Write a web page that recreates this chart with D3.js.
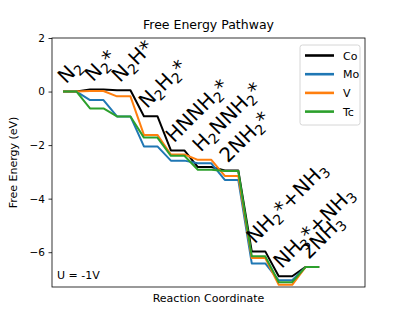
<!DOCTYPE html>
<html>
<head>
<meta charset="utf-8">
<script src="https://cdn.jsdelivr.net/npm/d3@7"></script>
<style>
  body { margin: 0; background: #fff; }
  text { font-family: "DejaVu Sans", sans-serif; }
</style>
</head>
<body>
<div id="chart"></div>
<script>
// reaction steps, "_" marks a subscript digit
var steps = ["N_2", "N_2*", "N_2H*", "N_2H_2*", "HNNH_2*", "H_2NNH_2*", "2NH_2*", "NH_2*+NH_3", "NH_3*+NH_3", "2NH_3"];

// free energies (eV) per metal
var metals = ["Co", "Mo", "V", "Tc"];
var Co = [0, 0.08, 0.05, -0.92, -2.2, -2.82, -2.95, -5.97, -6.9, -6.55];
var Mo = [0, -0.32, -0.93, -2.05, -2.58, -2.68, -3.3, -6.42, -7.05, -6.55];
var V  = [0, 0.02, -0.18, -1.62, -2.35, -2.55, -3.15, -6.22, -7.22, -6.55];
var Tc = [0, -0.63, -0.93, -1.72, -2.4, -2.92, -2.97, -6.15, -7.12, -6.55];
var yTicks = [2, 0, -2, -4, -6];

var series = {Co: Co, Mo: Mo, V: V, Tc: Tc};
var colors = {Co: "#000000", Mo: "#1f77b4", V: "#ff7f0e", Tc: "#2ca02c"};

var width = 415, height = 323;
var margin = {top: 38, right: 50, bottom: 36, left: 52};

var svg = d3.select("#chart").append("svg")
    .attr("width", width)
    .attr("height", height);

// each step is a flat piece from 2i to 2i+1
var x = d3.scaleLinear()
    .domain([-0.82, 22.4])
    .range([margin.left, width - margin.right]);
var y = d3.scaleLinear()
    .domain([-7.3, 2])
    .range([height - margin.bottom, margin.top]);

// y axis
var yAxis = svg.append("g")
    .attr("transform", "translate(" + margin.left + ",0)")
    .call(d3.axisLeft(y).tickValues(yTicks).tickSize(3.5).tickPadding(3.5).tickFormat(d3.format("d")));
yAxis.select(".domain").remove();
yAxis.selectAll(".tick line").attr("stroke", "#000").attr("stroke-width", 0.8);
yAxis.selectAll(".tick text").attr("font-size", 10.5).attr("fill", "#000")
    .style("font-family", "DejaVu Sans");

// lines
var line = d3.line()
    .x(function(d) { return x(d[0]); })
    .y(function(d) { return y(d[1]); });

metals.forEach(function(m) {
    var pts = [];
    series[m].forEach(function(e, i) {
        pts.push([2 * i, e]);
        pts.push([2 * i + 1, e]);
    });
    svg.append("path")
        .datum(pts)
        .attr("d", line)
        .attr("fill", "none")
        .attr("stroke", colors[m])
        .attr("stroke-width", 2)
        .attr("stroke-linejoin", "round");
});

// step labels, placed above the highest line at each step
var fs = 20;
steps.forEach(function(s, i) {
    var top = d3.max(metals, function(m) { return series[m][i]; });
    var t = svg.append("text")
        .attr("font-size", fs)
        .attr("fill", "#000")
        .attr("transform", "translate(" + (x(2 * i) + 3) + "," + (y(top) - 7) + ") rotate(-45)");
    var parts = s.split(/(_\d)/).filter(function(p) { return p.length; });
    var shifted = false;
    parts.forEach(function(p) {
        if (p[0] == "_") {
            t.append("tspan").attr("font-size", fs * 0.7).attr("dy", fs * 0.2).text(p[1]);
            shifted = true;
        } else {
            var sp = t.append("tspan").text(p);
            if (shifted) { sp.attr("dy", -fs * 0.2); shifted = false; }
        }
    });
});

// frame
svg.append("rect")
    .attr("x", margin.left)
    .attr("y", margin.top)
    .attr("width", width - margin.left - margin.right)
    .attr("height", height - margin.top - margin.bottom)
    .attr("fill", "none")
    .attr("stroke", "#000")
    .attr("stroke-width", 0.8);

// legend
var lg = svg.append("g").attr("transform", "translate(300,45)");
lg.append("rect")
    .attr("width", 60).attr("height", 80)
    .attr("rx", 2.5)
    .attr("fill", "#fff").attr("fill-opacity", 0.8)
    .attr("stroke", "#cccccc").attr("stroke-width", 0.8);
metals.forEach(function(m, i) {
    var yy = 10.5 + i * 18.7;
    lg.append("line")
        .attr("x1", 5).attr("x2", 34)
        .attr("y1", yy).attr("y2", yy)
        .attr("stroke", colors[m]).attr("stroke-width", 2.6);
    lg.append("text")
        .attr("x", 43).attr("y", yy + 4)
        .attr("font-size", 11).attr("fill", "#000")
        .text(m);
});

// texts
var cx = (margin.left + width - margin.right) / 2;
svg.append("text")
    .attr("x", cx).attr("y", 29)
    .attr("text-anchor", "middle").attr("font-size", 12.5)
    .text("Free Energy Pathway");
svg.append("text")
    .attr("x", cx).attr("y", 302)
    .attr("text-anchor", "middle").attr("font-size", 11)
    .text("Reaction Coordinate");
svg.append("text")
    .attr("transform", "translate(17," + ((margin.top + height - margin.bottom) / 2) + ") rotate(-90)")
    .attr("text-anchor", "middle").attr("font-size", 11)
    .text("Free Energy (eV)");
svg.append("text")
    .attr("x", 57).attr("y", 279)
    .attr("font-size", 11)
    .text("U = -1V");
</script>
</body>
</html>
